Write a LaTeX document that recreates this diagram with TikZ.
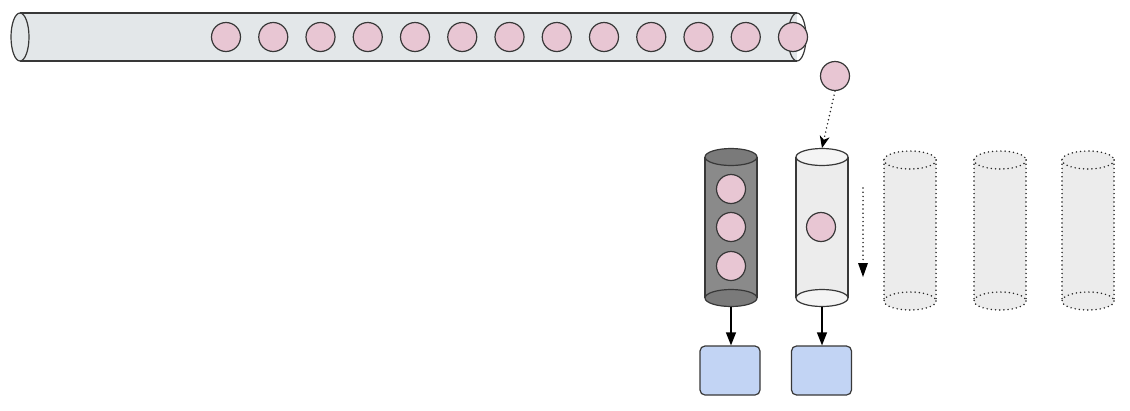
\documentclass[tikz,border=0pt]{standalone}
\usetikzlibrary{arrows.meta}
\definecolor{tubefill}{HTML}{E3E7E9}
\definecolor{ballfill}{HTML}{E8C6D3}
\definecolor{edge}{HTML}{383838}
\definecolor{darkcyl}{HTML}{8A8A8A}
\definecolor{darkcap}{HTML}{7A7A7A}
\definecolor{lightcyl}{HTML}{ECECEC}
\definecolor{lightcap}{HTML}{F4F4F4}
\definecolor{boxfill}{HTML}{C2D4F4}
\begin{document}
\begin{tikzpicture}[x=1pt,y=-1pt,
  ball/.style={circle,minimum size=29pt,inner sep=0pt,fill=ballfill,draw=edge,line width=1.2pt},
  outline/.style={draw=edge,line width=1.2pt},
  dotline/.style={draw=black!85,line width=1.7pt,line cap=round,dash pattern=on 0pt off 4.2pt},
  outbox/.style={rectangle,rounded corners=5pt,minimum width=60pt,minimum height=49pt,inner sep=0pt,fill=boxfill,draw=edge,line width=1.2pt},
  solidarrow/.style={draw=black,line width=1.2pt,-{Triangle[length=13pt,width=10pt]}}]
\useasboundingbox (0,0) rectangle (1130,410);

% horizontal tube
\fill[tubefill] (20,13) rectangle (797,61);
\draw[outline] (20,13) -- (797,13);
\draw[outline] (20,61) -- (797,61);
\draw[outline,fill=tubefill] (20,37) ellipse [x radius=9,y radius=24];
\draw[outline] (797,37) ellipse [x radius=9,y radius=24];
\foreach \i in {0,...,12}
  \node[ball] (b\i) at ({226+47.25*\i},37) {};

% falling ball
\node[ball] (fall) at (835,76) {};

% dark (full) cylinder
\fill[darkcyl] (705,157) rectangle (757,298);
\draw[outline] (705,157) -- (705,298);
\draw[outline] (757,157) -- (757,298);
\draw[outline,fill=darkcap] (731,298) ellipse [x radius=26,y radius=8.5];
\draw[outline,fill=darkcap] (731,157) ellipse [x radius=26,y radius=8.5];
\node[ball] (d1) at (731,189) {};
\node[ball] (d2) at (731,227) {};
\node[ball] (d3) at (731,266) {};

% light (filling) cylinder
\fill[lightcyl] (796,157) rectangle (848,298);
\draw[outline] (796,157) -- (796,298);
\draw[outline] (848,157) -- (848,298);
\draw[outline,fill=lightcap] (822,298) ellipse [x radius=26,y radius=8.5];
\draw[outline,fill=lightcap] (822,157) ellipse [x radius=26,y radius=8.5];
\node[ball] (l1) at (821,227) {};

% empty dotted cylinders
\foreach \c/\n in {910/e1,1000/e2,1088/e3}{
  \fill[lightcyl] (\c-26,160) rectangle (\c+26,301);
  \path[dotline] (\c-26,160) -- (\c-26,301);
  \path[dotline] (\c+26,160) -- (\c+26,301);
  \path[dotline,fill=lightcyl] (\c,301) ellipse [x radius=26,y radius=9];
  \path[dotline,fill=lightcyl] (\c,160) ellipse [x radius=26,y radius=9];
  \coordinate (\n) at (\c,230);
}

% arrows
\coordinate (ltop) at (822,148);
\draw[dotline,-{Stealth[length=12pt,width=10pt,inset=3.5pt,line width=0pt,fill=black]}] (fall.south) -- (ltop);
\coordinate (fa) at (863,188);
\coordinate (fb) at (863,277);
\draw[dotline,-{Triangle[length=14pt,width=10pt,line width=0pt,fill=black]}] (fa) -- (fb);

\node[outbox] (box1) at (730,370.5) {};
\node[outbox] (box2) at (821.5,370.5) {};
\coordinate (dbot) at (731,306.5);
\coordinate (lbot) at (822,306.5);
\draw[solidarrow] (dbot) -- (box1.north -| dbot);
\draw[solidarrow] (lbot) -- (box2.north -| lbot);
\end{tikzpicture}
\end{document}
